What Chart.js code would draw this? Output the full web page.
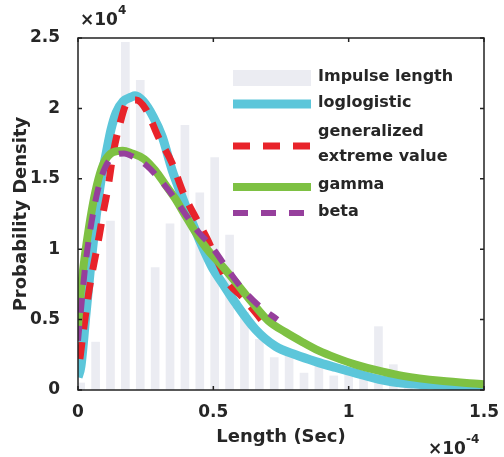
<!DOCTYPE html>
<html>
<head>
<meta charset="utf-8">
<script src="https://cdn.jsdelivr.net/npm/chart.js"></script>
<style>
  html, body { margin: 0; padding: 0; background: #fff; }
  #wrap { width: 504px; height: 457px; }
</style>
</head>
<body>
<div id="wrap"><canvas id="chart" width="504" height="457"></canvas></div>
<script>
// ---------- DATA ----------
// x in units of 1e-4 s, y in units of 1e4 (axis multipliers drawn separately)
const binCenters = [0.01, 0.065, 0.12, 0.175, 0.23, 0.285, 0.34, 0.395, 0.45, 0.505, 0.56, 0.615, 0.67, 0.725,
  0.78, 0.835, 0.89, 0.945, 1.0, 1.055, 1.11, 1.165, 1.22, 1.275, 1.33, 1.385, 1.44];
const binHeights = [0.05, 0.34, 1.2, 2.47, 2.2, 0.87, 1.18, 1.88, 1.4, 1.65, 1.1, 0.55, 0.36, 0.23,
  0.25, 0.12, 0.18, 0.1, 0.15, 0.1, 0.45, 0.18, 0.06, 0.08, 0.04, 0.03, 0.05];

const logX = [0, 0.011, 0.03, 0.048, 0.067, 0.085, 0.104, 0.122, 0.141, 0.167, 0.196, 0.211, 0.241, 0.278,
  0.311, 0.348, 0.385, 0.422, 0.459, 0.496, 0.533, 0.581, 0.656, 0.73, 0.804, 0.881, 0.952, 1.026, 1.126,
  1.193, 1.34, 1.5];
const logY = [0.09, 0.17, 0.55, 0.9, 1.23, 1.49, 1.68, 1.85, 1.97, 2.05, 2.08, 2.09, 2.05, 1.94,
  1.8, 1.56, 1.37, 1.19, 1.02, 0.87, 0.76, 0.62, 0.43, 0.31, 0.25, 0.2, 0.16, 0.12, 0.07,
  0.05, 0.035, 0.025];

const gevX = [0.007, 0.022, 0.041, 0.059, 0.078, 0.093, 0.111, 0.13, 0.152, 0.185, 0.215, 0.252, 0.296,
  0.348, 0.389, 0.478, 0.519, 0.556, 0.607, 0.656, 0.693];
const gevY = [0.22, 0.45, 0.71, 0.9, 1.09, 1.26, 1.44, 1.68, 1.87, 2.05, 2.06, 1.99, 1.8,
  1.61, 1.4, 1.07, 0.9, 0.76, 0.66, 0.55, 0.46];

const gammaX = [0, 0.01, 0.025, 0.04, 0.06, 0.08, 0.1, 0.13, 0.165, 0.2, 0.245, 0.285, 0.322, 0.359, 0.396,
  0.444, 0.481, 0.533, 0.585, 0.644, 0.704, 0.767, 0.83, 0.889, 0.952, 1.026, 1.126, 1.2, 1.34, 1.5];
const gammaY = [0.45, 0.7, 0.95, 1.15, 1.37, 1.53, 1.63, 1.69, 1.7, 1.68, 1.64, 1.56, 1.46, 1.36, 1.24,
  1.09, 0.99, 0.88, 0.76, 0.62, 0.49, 0.41, 0.34, 0.28, 0.23, 0.18, 0.13, 0.1, 0.065, 0.04];

const betaX = [0, 0.01, 0.025, 0.04, 0.06, 0.08, 0.1, 0.13, 0.17, 0.2, 0.25, 0.3, 0.35, 0.4, 0.45,
  0.489, 0.563, 0.611, 0.674, 0.737];
const betaY = [0.35, 0.55, 0.85, 1.07, 1.3, 1.47, 1.58, 1.66, 1.68, 1.66, 1.6, 1.5, 1.38, 1.24, 1.11,
  1.03, 0.83, 0.71, 0.59, 0.5];

const xTicks = [0, 0.5, 1, 1.5];
const yTicks = [0, 0.5, 1, 1.5, 2, 2.5];

// ---------- HELPERS ----------
const pts = (xs, ys) => xs.map((x, i) => ({ x, y: ys[i] }));
const FONT = "'DejaVu Sans', sans-serif";
const INK = "#262626";

const lineSet = (label, xs, ys, color, width, dash, order) => ({
  type: "line", label, data: pts(xs, ys),
  borderColor: color, backgroundColor: color, borderWidth: width,
  borderDash: dash, pointRadius: 0, cubicInterpolationMode: "monotone",
  borderCapStyle: "butt", fill: false, order
});

// frame box with inward ticks + axis multipliers
const framePlugin = {
  id: "frame",
  afterDatasetsDraw(chart) {
    const { ctx, chartArea: a, scales: { x, y } } = chart;
    ctx.save();
    ctx.strokeStyle = "#222";
    ctx.lineWidth = 1.5;
    ctx.strokeRect(a.left, a.top, a.right - a.left, a.bottom - a.top);
    ctx.beginPath();
    yTicks.forEach(v => {
      const py = y.getPixelForValue(v);
      ctx.moveTo(a.left, py); ctx.lineTo(a.left + 4, py);
      ctx.moveTo(a.right, py); ctx.lineTo(a.right - 4, py);
    });
    xTicks.forEach(v => {
      const px = x.getPixelForValue(v);
      ctx.moveTo(px, a.bottom); ctx.lineTo(px, a.bottom - 4);
      ctx.moveTo(px, a.top); ctx.lineTo(px, a.top + 4);
    });
    ctx.stroke();

    ctx.fillStyle = INK;
    ctx.textBaseline = "alphabetic";
    ctx.textAlign = "left";
    ctx.font = `bold 17px ${FONT}`;
    ctx.fillText("×10", a.left + 2, 25);
    ctx.font = `bold 12px ${FONT}`;
    ctx.fillText("4", a.left + 40, 14);
    ctx.font = `bold 17px ${FONT}`;
    ctx.fillText("×10", 428, 454);
    ctx.font = `bold 12px ${FONT}`;
    ctx.fillText("-4", 466, 443);
    ctx.restore();
  }
};

// legend drawn inside the axes, top right
const legendPlugin = {
  id: "boxLegend",
  afterDraw(chart) {
    const ctx = chart.ctx;
    const ds = chart.data.datasets;
    const x0 = 233, x1 = 311, tx = 318;
    ctx.save();
    ctx.fillStyle = ds[0].backgroundColor;
    ctx.fillRect(x0, 70, x1 - x0, 16);
    const rows = [
      { d: ds[1], y: 104, text: [ds[1].label], ty: [103] },
      { d: ds[2], y: 146, text: ["generalized", "extreme value"], ty: [132, 157] },
      { d: ds[3], y: 187, text: [ds[3].label], ty: [185] },
      { d: ds[4], y: 213, text: [ds[4].label], ty: [212] }
    ];
    rows.forEach(r => {
      ctx.strokeStyle = r.d.borderColor;
      ctx.lineWidth = r.d.borderWidth;
      ctx.setLineDash(r.d.borderDash || []);
      ctx.beginPath();
      ctx.moveTo(x0, r.y); ctx.lineTo(x1, r.y);
      ctx.stroke();
    });
    ctx.setLineDash([]);
    ctx.fillStyle = INK;
    ctx.font = `bold 16px ${FONT}`;
    ctx.textBaseline = "middle";
    ctx.fillText(ds[0].label, tx, 77);
    rows.forEach(r => r.text.forEach((t, i) => ctx.fillText(t, tx, r.ty[i])));
    ctx.restore();
  }
};

const tickFont = { family: FONT, size: 17, weight: "bold" };

// ---------- CHART ----------
new Chart(document.getElementById("chart"), {
  type: "bar",
  data: {
    datasets: [
      { type: "bar", label: "Impulse length", data: pts(binCenters, binHeights),
        backgroundColor: "#ebecf2", barThickness: 8, order: 5 },
      lineSet("loglogistic", logX, logY, "#5cc6da", 9, [], 4),
      lineSet("generalized extreme value", gevX, gevY, "#e8232a", 7, [17, 13], 3),
      lineSet("gamma", gammaX, gammaY, "#7ec143", 8, [], 2),
      lineSet("beta", betaX, betaY, "#963f9c", 6, [15, 13], 1)
    ]
  },
  options: {
    responsive: false,
    animation: false,
    devicePixelRatio: 1,
    layout: { padding: { top: 38, right: 20, left: 0, bottom: 0 } },
    plugins: { legend: { display: false }, tooltip: { enabled: false } },
    scales: {
      x: {
        type: "linear", min: 0, max: 1.5, offset: false,
        afterBuildTicks: s => { s.ticks = xTicks.map(v => ({ value: v })); },
        afterFit: s => { s.height = 67; },
        grid: { display: false }, border: { display: false },
        ticks: { color: INK, font: tickFont, padding: 4, maxRotation: 0, callback: v => String(v) },
        title: { display: true, text: "Length (Sec)", color: INK,
          font: { family: FONT, size: 18, weight: "bold" }, padding: { top: 9, bottom: 9 } }
      },
      y: {
        min: 0, max: 2.5,
        afterBuildTicks: s => { s.ticks = yTicks.map(v => ({ value: v })); },
        afterFit: s => { s.width = 78; },
        grid: { display: false }, border: { display: false },
        ticks: { color: INK, font: tickFont, padding: 10, callback: v => String(v) },
        title: { display: true, text: "Probability Density", color: INK,
          font: { family: FONT, size: 18, weight: "bold" }, padding: { top: 11, bottom: 11 } }
      }
    }
  },
  plugins: [framePlugin, legendPlugin]
});
</script>
</body>
</html>
